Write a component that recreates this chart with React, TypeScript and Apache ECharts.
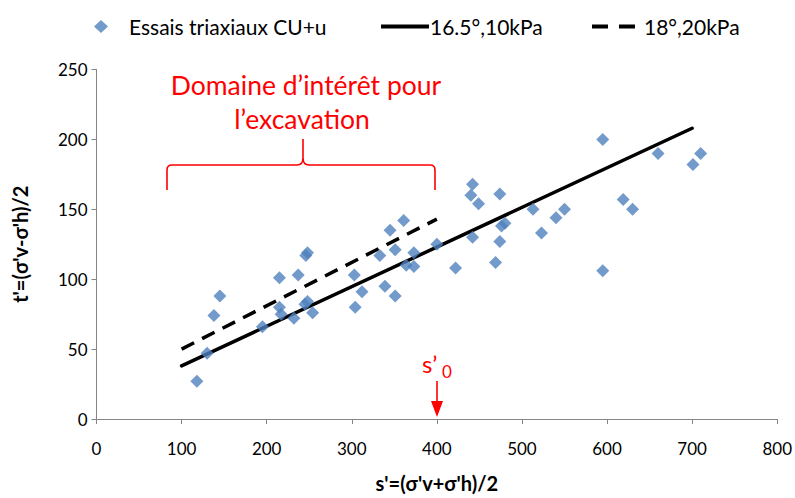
import React, { useEffect, useRef } from "react";
import * as echarts from "echarts";

// Essais triaxiaux CU+u : s' (kPa) and t' (kPa)
const sValues = [
  118, 130, 138, 145, 195, 215, 215, 217, 232, 237, 246, 248, 245, 248, 254,
  304, 303, 312, 339, 351, 333, 345, 351, 361, 373, 364, 373, 400, 422, 442,
  442, 440, 449, 474, 474, 469, 480, 476, 513, 523, 540, 550, 595, 595, 619,
  630, 660, 701, 710,
];
const tValues = [
  27, 47, 74, 88, 66, 101, 80, 75, 72, 103, 117, 119, 82, 84, 76,
  80, 103, 91, 95, 88, 117, 135, 121, 142, 119, 110, 109, 125, 108, 130,
  168, 160, 154, 161, 127, 112, 140, 138, 150, 133, 144, 150, 200, 106, 157,
  150, 190, 182, 190,
];

// Enveloppes
const line165S = [100, 700];
const line165T = [38, 208];
const line18S = [100, 400];
const line18T = [50, 143];

const seriesNames = ["Essais triaxiaux CU+u", "16.5°,10kPa", "18°,20kPa"];
const xAxisTitle = "s'=(σ'v+σ'h)/2";
const yAxisTitle = "t'=(σ'v-σ'h)/2";
const annotationLines = ["Domaine d’intérêt pour", "l’excavation"];

const FONT = "Lato";

const bracketPath =
  "M167,190 L167,170 Q167,165 172,165 L297,165 Q303,165 303,158 L303,139 M303,158 Q303,165 309,165 L430,165 Q435,165 435,170 L435,190";

let registered = false;

export default function App() {
  const ref = useRef<HTMLDivElement>(null);

  useEffect(() => {
    if (!ref.current) return;
    if (!registered) {
      echarts.graphic.registerShape(
        "bracket",
        echarts.graphic.extendPath(bracketPath, {})
      );
      registered = true;
    }
    const chart = echarts.init(ref.current, null, { renderer: "svg" });

    const scatterData = sValues.map((s, i) => [s, tValues[i]]);
    const l1 = line165S.map((s, i) => [s, line165T[i]]);
    const l2 = line18S.map((s, i) => [s, line18T[i]]);

    const axisColor = "#868686";
    const legendText = { fontSize: 21, fontFamily: FONT, color: "#000" };

    chart.setOption({
      animation: false,
      backgroundColor: "#fff",
      grid: { left: 96.5, right: 17.3, top: 69.5, bottom: 73.5 },
      legend: [
        {
          data: [seriesNames[0]],
          left: 89,
          top: 11,
          icon: "diamond",
          itemWidth: 14,
          itemHeight: 13,
          textStyle: { ...legendText, padding: [0, 0, 0, 16] },
        },
        {
          data: [seriesNames[1]],
          left: 376,
          top: 11,
          icon: "rect",
          itemWidth: 48,
          itemHeight: 4,
          itemStyle: { color: "#000" },
          textStyle: { ...legendText, padding: [0, 0, 0, -4] },
        },
        {
          data: [seriesNames[2]],
          left: 587,
          top: 11,
          icon: "path://M0,0h16v4h-16z M27,0h16v4h-16z",
          itemWidth: 43,
          itemHeight: 4,
          itemStyle: { color: "#000" },
          textStyle: { ...legendText, padding: [0, 0, 0, 4] },
        },
      ],
      xAxis: {
        type: "value",
        min: 0,
        max: 800,
        interval: 100,
        name: xAxisTitle,
        nameLocation: "middle",
        nameGap: 54,
        nameTextStyle: {
          fontSize: 20,
          fontWeight: "bold",
          fontFamily: FONT,
          color: "#000",
        },
        axisLine: { show: true, lineStyle: { color: axisColor, width: 1 } },
        axisTick: { show: true, length: 5, lineStyle: { color: axisColor } },
        splitLine: { show: false },
        axisLabel: { fontSize: 17, fontFamily: FONT, color: "#000", margin: 21 },
      },
      yAxis: {
        type: "value",
        min: 0,
        max: 250,
        interval: 50,
        name: yAxisTitle,
        nameLocation: "middle",
        nameRotate: 90,
        nameGap: 67,
        nameTextStyle: {
          fontSize: 20,
          fontWeight: "bold",
          fontFamily: FONT,
          color: "#000",
        },
        axisLine: { show: true, lineStyle: { color: axisColor, width: 1 } },
        axisTick: { show: true, length: 5, lineStyle: { color: axisColor } },
        splitLine: { show: false },
        axisLabel: { fontSize: 17, fontFamily: FONT, color: "#000", margin: 9 },
      },
      series: [
        {
          name: seriesNames[0],
          type: "scatter",
          data: scatterData,
          symbol: "diamond",
          symbolSize: 13,
          itemStyle: { color: "#4f81bd" },
          z: 5,
        },
        {
          name: seriesNames[1],
          type: "line",
          data: l1,
          symbol: "none",
          lineStyle: { color: "#000", width: 3.5, cap: "round" },
          itemStyle: { color: "#000" },
          z: 3,
        },
        {
          name: seriesNames[2],
          type: "line",
          data: l2,
          symbol: "none",
          lineStyle: { color: "#000", width: 3.5, type: [14, 9] },
          itemStyle: { color: "#000" },
          z: 3,
        },
      ],
      graphic: [
        {
          type: "bracket",
          x: 0,
          y: 0,
          style: { stroke: "#ff0000", fill: null, lineWidth: 1.6 },
          z: 10,
        },
        {
          type: "text",
          x: 306,
          y: 85,
          style: {
            text: annotationLines[0],
            fontSize: 26.5,
            fontFamily: FONT,
            fill: "#ff0000",
            textAlign: "center",
            textVerticalAlign: "middle",
          },
        },
        {
          type: "text",
          x: 302,
          y: 119,
          style: {
            text: annotationLines[1],
            fontSize: 26.5,
            fontFamily: FONT,
            fill: "#ff0000",
            textAlign: "center",
            textVerticalAlign: "middle",
          },
        },
        {
          type: "text",
          x: 422,
          y: 363,
          style: {
            text: "s’",
            fontSize: 24,
            fontFamily: FONT,
            fill: "#ff0000",
            textAlign: "left",
            textVerticalAlign: "middle",
          },
        },
        {
          type: "text",
          x: 442,
          y: 371,
          style: {
            text: "0",
            fontSize: 17,
            fontFamily: FONT,
            fill: "#ff0000",
            textAlign: "left",
            textVerticalAlign: "middle",
          },
        },
        {
          type: "line",
          shape: { x1: 437, y1: 381, x2: 437, y2: 404 },
          style: { stroke: "#ff0000", lineWidth: 1.6 },
        },
        {
          type: "polygon",
          shape: { points: [[431, 401], [443, 401], [437, 417]] },
          style: { fill: "#ff0000" },
        },
      ],
    });

    return () => chart.dispose();
  }, []);

  return (
    <div
      ref={ref}
      style={{ position: "fixed", left: 0, top: 0, width: 795, height: 498 }}
    />
  );
}
